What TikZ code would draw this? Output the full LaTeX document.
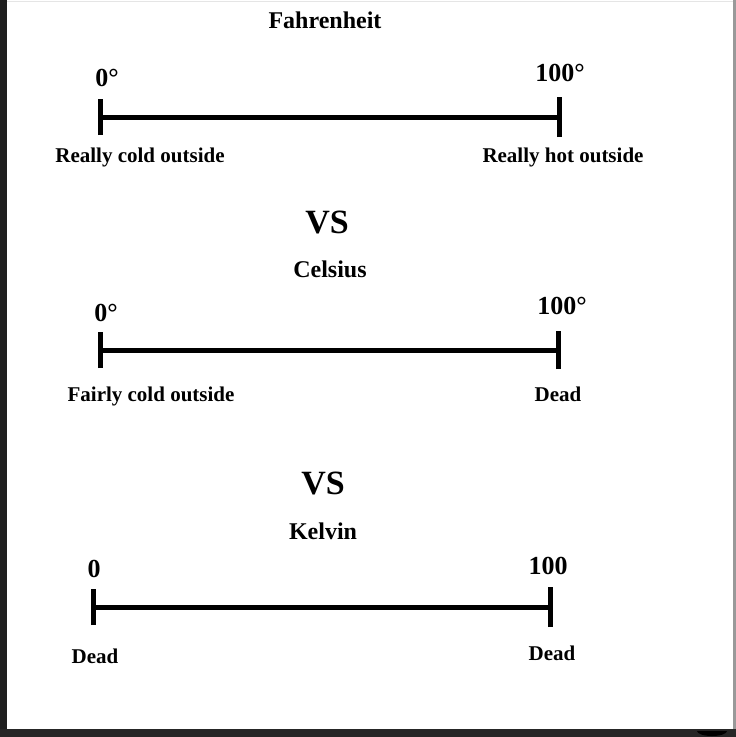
\documentclass[tikz,border=0pt]{standalone}
\usepackage{fontspec}
\setmainfont{Liberation Serif}
\begin{document}
\begin{tikzpicture}[x=1pt,y=-1pt,
  lbl/.style={inner sep=0pt,font=\bfseries\fontsize{21}{21}\selectfont},
  num/.style={inner sep=0pt,font=\bfseries\fontsize{26}{26}\selectfont},
  ttl/.style={inner sep=0pt,font=\bfseries\fontsize{24}{24}\selectfont},
  vs/.style={inner sep=0pt,font=\bfseries\fontsize{34}{34}\selectfont},
  bar/.style={line width=5pt},
  tick/.style={line width=5pt}]
\useasboundingbox (0,0) rectangle (736,737);
\fill[white] (0,0) rectangle (736,737);
% frame
\fill[black!88] (0,0) rectangle (7,737);
\fill[black!85] (0,729) rectangle (736,737);
\fill[black!40] (733,0) rectangle (736,729);
\draw[black!10,line width=1pt] (7,1) -- (733,1);
\fill[black] (697,731) arc[start angle=180,end angle=0,x radius=15,y radius=5] -- cycle;
% Fahrenheit
\node[ttl] (t1) at (325,20) {Fahrenheit};
\coordinate (a1) at (100,117);
\coordinate (b1) at (559,117);
\draw[bar] (a1) -- (b1);
\draw[tick] ([yshift=-18]a1) -- ([yshift=18]a1);
\draw[tick] ([yshift=-20]b1) -- ([yshift=20]b1);
\node[num] (n1a) at (107,78) {0°};
\node[num] (n1b) at (560,73) {100°};
\node[lbl] (l1a) at (140,157) {Really cold outside};
\node[lbl] (l1b) at (563,157) {Really hot outside};
% Celsius
\node[vs] (v1) at (327,222) {VS};
\node[ttl] (t2) at (330,269) {Celsius};
\coordinate (a2) at (100,350);
\coordinate (b2) at (558,350);
\draw[bar] (a2) -- (b2);
\draw[tick] ([yshift=-18]a2) -- ([yshift=18]a2);
\draw[tick] ([yshift=-19]b2) -- ([yshift=19]b2);
\node[num] (n2a) at (106,313) {0°};
\node[num] (n2b) at (562,306) {100°};
\node[lbl] (l2a) at (151,396) {Fairly cold outside};
\node[lbl] (l2b) at (558,394) {Dead};
% Kelvin
\node[vs] (v2) at (323,483) {VS};
\node[ttl] (t3) at (323,531) {Kelvin};
\coordinate (a3) at (93,607);
\coordinate (b3) at (550,607);
\draw[bar] (a3) -- (b3);
\draw[tick] ([yshift=-18]a3) -- ([yshift=18]a3);
\draw[tick] ([yshift=-20]b3) -- ([yshift=20]b3);
\node[num] (n3a) at (94,569) {0};
\node[num] (n3b) at (548,566) {100};
\node[lbl] (l3a) at (95,656) {Dead};
\node[lbl] (l3b) at (552,653) {Dead};
\end{tikzpicture}
\end{document}
